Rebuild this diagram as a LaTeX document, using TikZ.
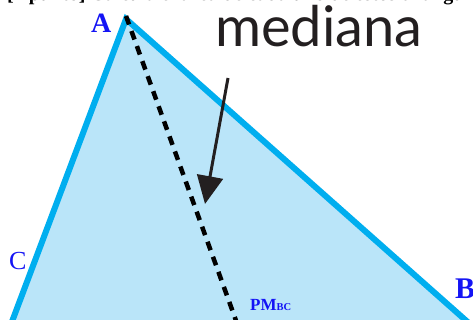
\documentclass[tikz,border=0pt]{standalone}
\usepackage{fontspec}
\setmainfont{Liberation Serif}
\newfontfamily\labelsans{Lato}
\usetikzlibrary{arrows.meta}
\definecolor{edgecyan}{RGB}{0,174,239}
\definecolor{fillblue}{RGB}{186,229,249}
\definecolor{lblblue}{RGB}{20,20,245}
\definecolor{inkdark}{RGB}{35,31,32}
\tikzset{
  vlabel/.style={text=lblblue, inner sep=0pt, anchor=base west, font=\bfseries},
  edge/.style={draw=edgecyan, line width=6pt, line join=miter},
  median/.style={draw=black, line width=4.5pt, dash pattern=on 9pt off 7pt},
  pointer/.style={draw=inkdark, line width=3pt, -{Triangle[length=28pt,width=26pt]}}
}
\begin{document}
\begin{tikzpicture}[x=1pt,y=-1pt]
\useasboundingbox (0,0) rectangle (473,320);
\begin{scope}
\clip (0,0) rectangle (473,320);
\fill[white] (0,0) rectangle (473,320);
% title line, mostly cut off
\node[anchor=base west, inner sep=0pt, font=\bfseries\fontsize{20}{20}\selectfont] (title) at (7,0.5) {[1 punto] Calcula el área de cada uno de estos triángulos};
% triangle
\coordinate (A) at (126,19);
\coordinate (Cfar) at (-10,380);
\coordinate (Bfar) at (533,380);
\fill[fillblue] (A) -- (Cfar) -- (Bfar) -- cycle;
\draw[edge] (Cfar) -- (A) -- (Bfar);
% median
\coordinate (M) at (243,340);
\draw[median] ([yshift=3pt]A) -- (M);
\end{scope}
% labels
\node[vlabel, font=\bfseries\fontsize{28}{28}\selectfont] (la) at (91,33) {A};
\node[vlabel, font=\bfseries\fontsize{30}{30}\selectfont] (lb) at (455,298) {B};
\node[vlabel, font=\fontsize{26}{26}\selectfont] (lc) at (9,269) {C};
\node[vlabel, font=\bfseries\fontsize{17}{17}\selectfont] (pm) at (250,310) {PM{\fontsize{10.5}{10.5}\selectfont BC}};
% mediana text and arrow
\node[anchor=base west, inner sep=0pt, text=inkdark, font=\labelsans\fontsize{56}{56}\selectfont] (med) at (215,47) {mediana};
\coordinate (arrstart) at (228,78);
\coordinate (arrtip) at (205,204);
\draw[pointer] (arrstart) -- (arrtip);
\end{tikzpicture}
\end{document}
